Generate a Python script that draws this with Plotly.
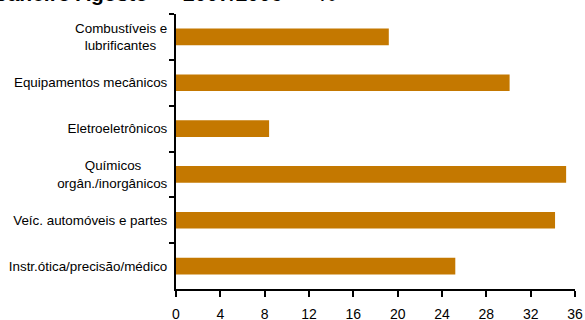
import plotly.graph_objects as go

NB = "\u00a0"

# Categories listed top to bottom as in the reference
categories = [
    "Combustíveis e<br>lubrificantes" + NB * 3,
    "Equipamentos mecânicos",
    "Eletroeletrônicos",
    "Químicos" + NB * 7 + "<br>orgân./inorgânicos",
    "Veíc. automóveis e partes",
    "Instr.ótica/precisão/médico",
]
values = [19.2, 30.1, 8.4, 35.2, 34.2, 25.2]
x_ticks = [0, 4, 8, 12, 16, 20, 24, 28, 32, 36]
title_text = "Janeiro Agosto " + NB + "–" + NB + " 2007/2006 " + NB + "–" + NB + " %"

BAR_COLOR = "#C47800"
FONT = "Arial, Liberation Sans, sans-serif"

fig = go.Figure(
    go.Bar(
        x=values,
        y=categories,
        orientation="h",
        marker=dict(color=BAR_COLOR, line=dict(width=0)),
        width=0.365,
    )
)

fig.update_layout(
    width=585,
    height=320,
    margin=dict(l=176, r=10, t=14, b=31, autoexpand=False),
    paper_bgcolor="white",
    plot_bgcolor="white",
    showlegend=False,
    font=dict(family=FONT, color="black"),
    annotations=[
        dict(
            text="<b>" + title_text + "</b>",
            xref="paper", yref="paper",
            x=-0.456, y=1.025,
            xanchor="left", yanchor="bottom",
            showarrow=False,
            font=dict(family=FONT, size=21, color="black"),
        )
    ],
)

fig.update_xaxes(
    range=[0, 36],
    tickvals=x_ticks,
    ticktext=[str(v) for v in x_ticks],
    showgrid=False,
    zeroline=False,
    showline=True,
    linecolor="black",
    linewidth=2,
    ticks="outside",
    ticklen=6,
    tickwidth=2,
    tickcolor="black",
    tickfont=dict(family=FONT, size=14, color="black"),
    ticklabelstandoff=5,
    automargin=False,
)

fig.update_yaxes(
    categoryorder="array",
    categoryarray=categories,
    autorange="reversed",
    showgrid=False,
    zeroline=False,
    showline=True,
    linecolor="black",
    linewidth=2,
    ticks="outside",
    tickson="boundaries",
    ticklen=5,
    tickwidth=2,
    tickcolor="black",
    tickfont=dict(family=FONT, size=13.4, color="black"),
    ticklabelstandoff=4,
    automargin=False,
)

fig.write_html(
    "out.html",
    config={"displayModeBar": False},
    post_script="document.body.style.margin='0';document.body.style.padding='0';",
)
